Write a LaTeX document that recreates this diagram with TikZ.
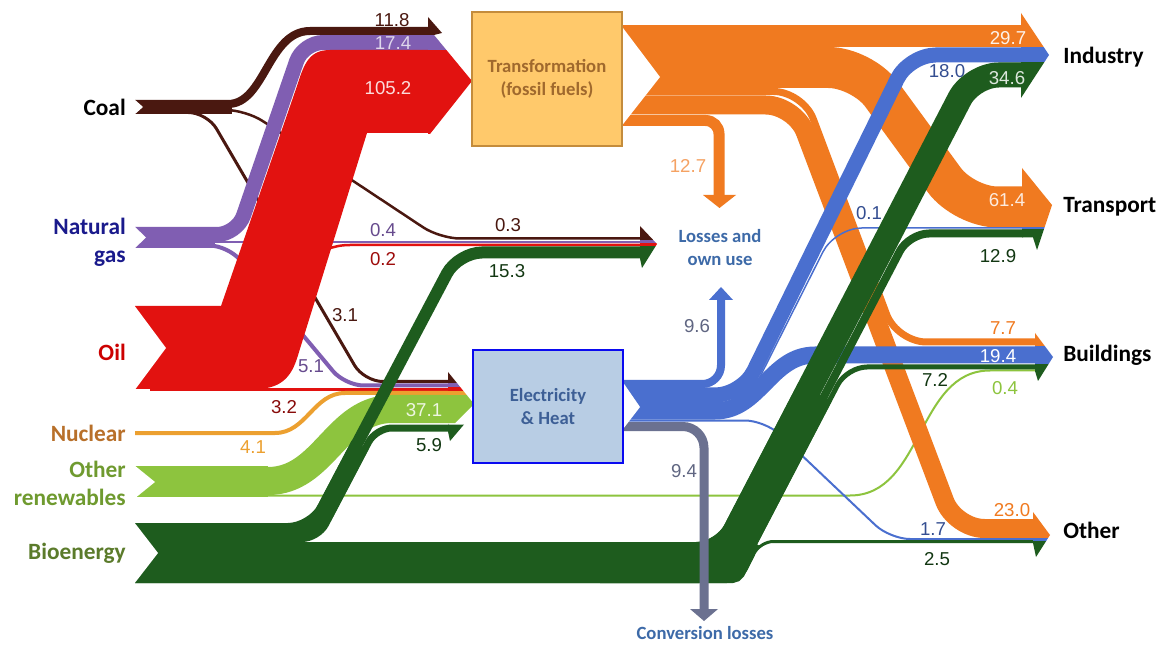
\documentclass[tikz,border=0pt]{standalone}
\usepackage{fontspec}
\setmainfont{Carlito}
\newfontfamily\numfam{Liberation Sans}

% flow colours
\definecolor{coalc}{RGB}{74,24,16}
\definecolor{gasc}{RGB}{128,94,178}
\definecolor{oilc}{RGB}{226,18,16}
\definecolor{nucc}{RGB}{236,160,48}
\definecolor{renc}{RGB}{141,196,62}
\definecolor{bioc}{RGB}{30,92,30}
\definecolor{fosc}{RGB}{240,122,32}
\definecolor{elc}{RGB}{74,111,207}
\definecolor{convc}{RGB}{107,113,144}
% boxes and texts
\definecolor{transfill}{RGB}{255,201,107}
\definecolor{transdraw}{RGB}{196,140,60}
\definecolor{transtext}{RGB}{160,105,45}
\definecolor{elecfill}{RGB}{184,205,228}
\definecolor{elecdraw}{RGB}{10,10,240}
\definecolor{electext}{RGB}{61,95,150}
\definecolor{losstext}{RGB}{61,106,168}
\definecolor{gastext}{RGB}{26,26,140}
\definecolor{oiltext}{RGB}{204,0,0}
\definecolor{nuctext}{RGB}{184,112,42}
\definecolor{rentext}{RGB}{111,154,47}
\definecolor{biotext}{RGB}{91,123,43}

\begin{document}
\begin{tikzpicture}[x=0.75pt,y=-0.75pt,
    band/.style={line width=#1*0.75pt},
    src/.style={anchor=east, align=right, inner sep=0pt, font=\fontsize{17.5}{21}\selectfont\bfseries},
    dst/.style={anchor=west, inner sep=0pt, font=\fontsize{17.5}{21}\selectfont\bfseries},
    num/.style={inner sep=0pt, font=\numfam\fontsize{14}{16}\selectfont},
    sink/.style={align=center, inner sep=0pt, text=losstext, font=\fontsize{14}{17}\selectfont\bfseries},
    proc/.style={rectangle, inner sep=0pt, align=center, minimum width=112.5pt, font=\fontsize{14}{17}\selectfont\bfseries}]

    % Canvas
    \fill[white] (0,0) rectangle (1168,645);
    \useasboundingbox (0,0) rectangle (1168,645);

    % Thin lines from coal, gas, oil and nuclear
    \draw[coalc, band=3, rounded corners=14pt] (190,112.5) -- (207,112.5) -- (364,381.5) -- (449,381.5);
    \draw[coalc, band=2.5, rounded corners=15pt] (220,110) -- (246,110) -- (440,238.5) -- (641,238.5);
    \draw[gasc, band=4, rounded corners=14pt] (200,245.5) -- (228,245.5) -- (345,385.5) -- (449,385.5);
    \draw[gasc, band=2.5] (150,242) -- (641,242);
    \draw[oilc, band=3] (150,389.5) -- (449,389.5);
    \draw[oilc, band=2.5] (305,258) to[out=20,in=180] (350,245) -- (641,245);
    \draw[nucc, band=4] (135,433) -- (275,433) to[out=0,in=180] (345,393) -- (449,393);

    % Gas and coal to transformation
    \draw[gasc, band=21] (135,237.5) -- (215,237.5);
    \draw[gasc, band=15, rounded corners=15pt] (135,234.5) -- (237,234.5) -- (303,42.5) -- (429,42.5);
    \draw[coalc, band=14] (135,107) -- (232,107);
    \draw[coalc, band=8] (135,104) -- (228,104) .. controls (265,104) and (268,31) .. (310,31) -- (429,31);

    % Oil
    \fill[oilc] (135,306) -- (221,306) -- (297,86) .. controls (304,64) and (309,50) .. (330,50)
        -- (429,50) -- (429,133) -- (367,133) -- (299,352) .. controls (293,373) and (285,389) .. (255,389)
        -- (135,389) -- cycle;

    % Other renewables
    \draw[renc, band=31] (135,481.5) -- (268,481.5);
    \draw[renc, band=28] (135,481) -- (268,481) to[out=0,in=180] (392,409) -- (449,409);
    \draw[renc, band=2] (135,495.5) -- (850,495.5) to[out=0,in=180] (990,370.5) -- (1036,370.5);

    % Fossil fuel products
    \draw[fosc, band=22] (621,36) -- (1022,36);
    \draw[fosc, band=41, rounded corners=25pt] (621,67.5) -- (862,67.5) -- (964,207) -- (1022.5,207);
    \draw[fosc, band=7, rounded corners=22pt] (621,91.5) -- (803,91.5) -- (897,342) -- (1036,342);
    \draw[fosc, band=19, rounded corners=22pt] (621,105) -- (795,105) -- (955,528.5) -- (1034,528.5);
    \draw[fosc, band=11, rounded corners=10pt] (621,120.5) -- (719,120.5) -- (719,196);

    % Electricity and heat
    \draw[elc, band=8, rounded corners=14pt] (621,384) -- (721,384) -- (721,299);
    \draw[elc, band=15, rounded corners=20pt] (621,395) -- (742,395) -- (909,55) -- (1022,55);
    \draw[elc, band=1.5, rounded corners=20pt] (621,402.5) -- (747,402.5) -- (835,228) -- (1023,228);
    \draw[elc, band=17] (621,411) -- (715,411) to[out=0,in=180] (815,355) -- (1036,355);
    \draw[elc, band=2, rounded corners=15pt] (621,420.5) -- (765,420.5) -- (890,539) -- (1034,539);

    % Bioenergy
    \draw[bioc, band=60] (135,553) -- (305,553);
    \draw[bioc, band=19, rounded corners=15pt] (135,532.5) -- (314,532.5) -- (360,445);
    \draw[bioc, band=41, rounded corners=22pt] (135,562.5) -- (728,562.5) -- (738,543);
    \draw[bioc, band=20.5, rounded corners=2pt] (600,572.75) -- (734.3,572.75) -- (746,550);
    \draw[bioc, band=38, rounded corners=22pt] (135,561) -- (727,561) -- (815,392);
    \draw[bioc, band=12, rounded corners=18pt] (135,529) -- (312,529) -- (458,252.5) -- (641,252.5);
    \draw[bioc, band=7, rounded corners=12pt] (135,538.5) -- (318,538.5) -- (376,428) -- (449,428);
    \draw[bioc, band=25, rounded corners=20pt] (135,554.5) -- (723,554.5) -- (972,75) -- (1022,75);
    \draw[bioc, band=8, rounded corners=15pt] (135,571) -- (733,571) -- (909,233.5) -- (1023,233.5);
    \draw[bioc, band=5, rounded corners=15pt] (135,577.5) -- (737,577.5) -- (847,367) -- (1036,367);
    \draw[bioc, band=3, rounded corners=10pt] (135,581.5) -- (740,581.5) -- (760,541.5) -- (1034,541.5);

    % Conversion losses
    \draw[convc, band=9, rounded corners=16pt] (621,426.5) -- (704,426.5) -- (704,610);

    % Arrow heads
    \begin{scope}
        \clip (428,17) -- (442,33) -- (434,35) -- (472,81) -- (430,134) -- (428,134) -- cycle;
        \fill[coalc] (428,10) rectangle (480,35);
        \fill[gasc] (428,35) rectangle (480,50);
        \fill[oilc] (428,50) rectangle (480,140);
    \end{scope}
    \begin{scope}
        \clip (448,372) -- (474,404) -- (455,423) -- (448,423) -- cycle;
        \fill[coalc] (448,365) rectangle (480,383);
        \fill[gasc] (448,383) rectangle (480,387.5);
        \fill[oilc] (448,387.5) rectangle (480,391);
        \fill[nucc] (448,391) rectangle (480,395);
        \fill[renc] (448,395) rectangle (480,430);
    \end{scope}
    \fill[bioc] (448,424.5) -- (464,424.5) -- (450,441) -- (448,431.5) -- cycle;
    \begin{scope}
        \clip (640,226) -- (657,244) -- (642,268) -- (640,258.5) -- cycle;
        \fill[coalc] (640,220) rectangle (660,240);
        \fill[gasc] (640,240) rectangle (660,243.5);
        \fill[oilc] (640,243.5) rectangle (660,246.5);
        \fill[bioc] (640,246.5) rectangle (660,270);
    \end{scope}
    \fill[fosc] (703,195) -- (736,195) -- (719.5,208) -- cycle;
    \fill[elc] (709,300) -- (733,300) -- (721,287) -- cycle;
    \fill[convc] (690,609) -- (718,609) -- (704,621) -- cycle;
    \begin{scope}
        \clip (1021,13) -- (1049,55) -- (1021,98) -- cycle;
        \fill[fosc] (1021,0) rectangle (1060,47.5);
        \fill[elc] (1021,47.5) rectangle (1060,62.5);
        \fill[bioc] (1021,62.5) rectangle (1060,110);
    \end{scope}
    \begin{scope}
        \clip (1022,168) -- (1052,205) -- (1037,250) -- (1033,237.5) -- (1022,237.5) -- cycle;
        \fill[fosc] (1022,160) rectangle (1060,227.5);
        \fill[elc] (1022,227.5) rectangle (1060,229.5);
        \fill[bioc] (1022,229.5) rectangle (1060,255);
    \end{scope}
    \begin{scope}
        \clip (1035,333) -- (1053,357) -- (1038,381) -- (1035,371) -- cycle;
        \fill[fosc] (1035,325) rectangle (1060,346);
        \fill[elc] (1035,346) rectangle (1060,364);
        \fill[bioc] (1035,364) rectangle (1060,390);
    \end{scope}
    \begin{scope}
        \clip (1033,512) -- (1050,535) -- (1036,557) -- (1033,543) -- cycle;
        \fill[fosc] (1033,505) rectangle (1060,537.5);
        \fill[elc] (1033,537.5) rectangle (1060,540.5);
        \fill[bioc] (1033,540.5) rectangle (1060,565);
    \end{scope}

    % Notched tails
    \fill[white] (134,99) -- (143,107) -- (134,115) -- cycle;
    \fill[white] (134,226) -- (146,237.5) -- (134,249) -- cycle;
    \fill[white] (134,305) -- (166,348) -- (134,391) -- cycle;
    \fill[white] (134,465) -- (155,482) -- (134,499) -- cycle;
    \fill[white] (134,522) -- (158,553) -- (134,584) -- cycle;
    \fill[white] (620,24) -- (660,77) -- (620,128) -- cycle;
    \fill[white] (620,378) -- (640,407) -- (620,433) -- cycle;

    % Boxes
    \node[proc, draw=transdraw, fill=transfill, line width=1.2pt, minimum height=100.5pt, text=transtext]
        (trans) at (547,79) {Transformation\\(fossil fuels)};
    \node[proc, draw=elecdraw, fill=elecfill, line width=1.5pt, minimum height=84.75pt, text=electext]
        (elec) at (548,406.5) {Electricity\\\& Heat};

    % Sources
    \node[src, text=black] (coal) at (126,107) {Coal};
    \node[src, text=gastext] (gas) at (126,242) {Natural\\gas};
    \node[src, text=oiltext] (oil) at (126,352) {Oil};
    \node[src, text=nuctext] (nuclear) at (126,433) {Nuclear};
    \node[src, text=rentext] (renew) at (126,483.5) {Other\\renewables};
    \node[src, text=biotext] (bio) at (126,553) {Bioenergy};

    % Sinks
    \node[dst] (industry) at (1063,57) {Industry};
    \node[dst] (transport) at (1063,207) {Transport};
    \node[dst] (buildings) at (1063,355) {Buildings};
    \node[dst] (other) at (1063,530) {Other};
    \node[sink] (losses) at (720,247.5) {Losses and\\own use};
    \node[sink] (convloss) at (705,633) {Conversion losses};

    % Values
    \node[num, text=coalc] (v118) at (392,20) {11.8};
    \node[num, text=gasc!25] (v174) at (393,43) {17.4};
    \node[num, text=oilc!15] (v1052) at (388,88) {105.2};
    \node[num, text=gasc!80!black] (v04a) at (383,230) {0.4};
    \node[num, text=oilc!70!black] (v02) at (383,259) {0.2};
    \node[num, text=coalc] (v03) at (508,225) {0.3};
    \node[num, text=bioc!60!black] (v153) at (507,271) {15.3};
    \node[num, text=coalc] (v31) at (345,315) {3.1};
    \node[num, text=gasc!80!black] (v51) at (311,366) {5.1};
    \node[num, text=oilc!60!black] (v32) at (284,407) {3.2};
    \node[num, text=nucc] (v41) at (253,447) {4.1};
    \node[num, text=renc!15] (v371) at (424,410) {37.1};
    \node[num, text=bioc!60!black] (v59) at (429,445) {5.9};
    \node[num, text=fosc!70] (v127) at (688,166) {12.7};
    \node[num, text=convc!90!black] (v96) at (697,326) {9.6};
    \node[num, text=convc!90!black] (v94) at (684,471) {9.4};
    \node[num, text=fosc!10] (v297) at (1008,38) {29.7};
    \node[num, text=elc!70!black] (v180) at (947,71) {18.0};
    \node[num, text=bioc!15] (v346) at (1007,78) {34.6};
    \node[num, text=fosc!15] (v614) at (1007,200) {61.4};
    \node[num, text=elc!70!black] (v01) at (869,213) {0.1};
    \node[num, text=bioc!60!black] (v129) at (998,256) {12.9};
    \node[num, text=fosc] (v77) at (1003,328) {7.7};
    \node[num, text=white] (v194) at (998,356) {19.4};
    \node[num, text=bioc!60!black] (v72) at (935,380) {7.2};
    \node[num, text=renc] (v04b) at (1005,388) {0.4};
    \node[num, text=fosc] (v230) at (1012,510) {23.0};
    \node[num, text=elc!70!black] (v17) at (933,529) {1.7};
    \node[num, text=bioc!60!black] (v25) at (937,559) {2.5};
\end{tikzpicture}
\end{document}
